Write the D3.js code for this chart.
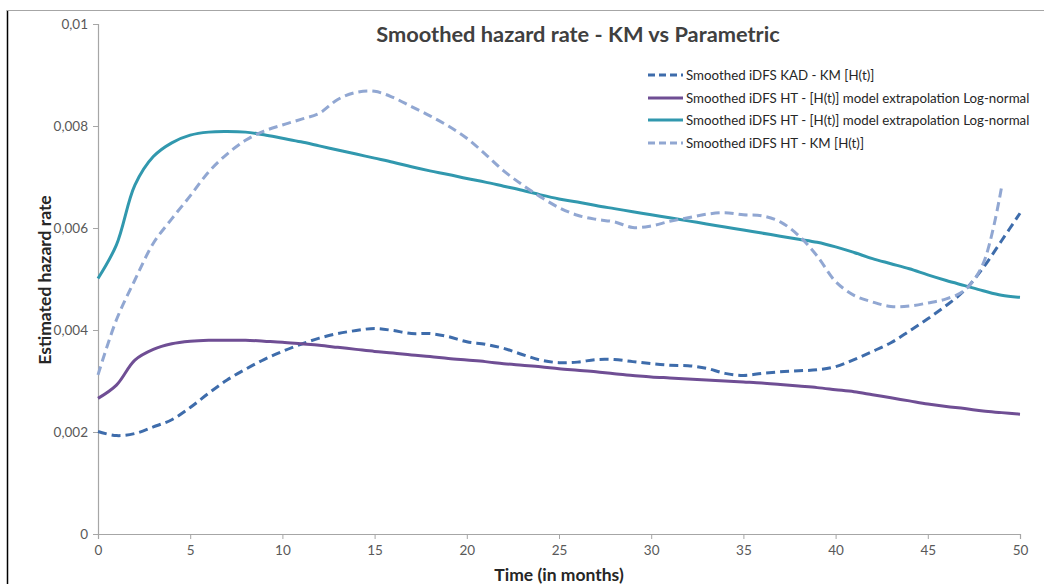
<!DOCTYPE html>
<html>
<head>
<meta charset="utf-8">
<script src="https://cdn.jsdelivr.net/npm/d3@7"></script>
<style>
  html, body { margin: 0; padding: 0; background: #fff; }
  svg { display: block; font-family: Lato, "Open Sans", sans-serif; }
</style>
</head>
<body>
<svg id="chart" width="1044" height="584"></svg>
<script>
// Time axis (months) and tick labels
const months = d3.range(0, 51);
const xTicks = [0, 5, 10, 15, 20, 25, 30, 35, 40, 45, 50];
const yTicks = [0, 0.002, 0.004, 0.006, 0.008, 0.01];
const yTickLabels = ["0", "0,002", "0,004", "0,006", "0,008", "0,01"];

// Smoothed iDFS KAD - KM [H(t)]
const kadKM = [0.00201, 0.00193, 0.00197, 0.00210, 0.00224, 0.00248, 0.00276, 0.00302, 0.00323, 0.00342,
  0.00358, 0.00372, 0.00384, 0.00393, 0.00399, 0.00403, 0.00399, 0.00393, 0.00393, 0.00387,
  0.00377, 0.00372, 0.00364, 0.00352, 0.00341, 0.00336, 0.00337, 0.00342, 0.00342, 0.00338,
  0.00334, 0.00331, 0.00330, 0.00325, 0.00315, 0.00311, 0.00315, 0.00318, 0.00320, 0.00322,
  0.00328, 0.00342, 0.00358, 0.00375, 0.00398, 0.00422, 0.00448, 0.00478, 0.00522, 0.00575, 0.00629];

// Smoothed iDFS HT - [H(t)] model extrapolation Log-normal (lower)
const htLogNormalLow = [0.00266, 0.00292, 0.00341, 0.00362, 0.00373, 0.00378, 0.00380, 0.00380, 0.00380, 0.00378,
  0.00376, 0.00373, 0.00370, 0.00366, 0.00362, 0.00358, 0.00355, 0.00351, 0.00348, 0.00344,
  0.00341, 0.00338, 0.00334, 0.00331, 0.00328, 0.00324, 0.00321, 0.00318, 0.00314, 0.00311,
  0.00308, 0.00306, 0.00304, 0.00302, 0.00300, 0.00298, 0.00296, 0.00293, 0.00290, 0.00287,
  0.00283, 0.00279, 0.00273, 0.00267, 0.00261, 0.00255, 0.00250, 0.00246, 0.00241, 0.00238, 0.00235];

// Smoothed iDFS HT - [H(t)] model extrapolation Log-normal (upper)
const htLogNormalHigh = [0.00501, 0.00567, 0.00684, 0.00740, 0.00767, 0.00782, 0.00788, 0.00789, 0.00788, 0.00783,
  0.00776, 0.00769, 0.00761, 0.00753, 0.00745, 0.00737, 0.00729, 0.00720, 0.00712, 0.00705,
  0.00697, 0.00690, 0.00682, 0.00674, 0.00665, 0.00657, 0.00651, 0.00644, 0.00638, 0.00632,
  0.00626, 0.00620, 0.00614, 0.00608, 0.00602, 0.00596, 0.00590, 0.00584, 0.00578, 0.00572,
  0.00563, 0.00552, 0.00540, 0.00530, 0.00520, 0.00508, 0.00497, 0.00487, 0.00477, 0.00468, 0.00464];

// Smoothed iDFS HT - KM [H(t)] (no value at month 50)
const htKM = [0.00312, 0.00420, 0.00498, 0.00570, 0.00618, 0.00663, 0.00710, 0.00745, 0.00772, 0.00790,
  0.00802, 0.00813, 0.00825, 0.00852, 0.00866, 0.00868, 0.00856, 0.00838, 0.00820, 0.00800,
  0.00776, 0.00745, 0.00712, 0.00685, 0.00661, 0.00640, 0.00625, 0.00617, 0.00612, 0.00601,
  0.00604, 0.00613, 0.00620, 0.00627, 0.00630, 0.00626, 0.00624, 0.00612, 0.00585, 0.00545,
  0.00495, 0.00468, 0.00455, 0.00446, 0.00447, 0.00453, 0.00461, 0.00478, 0.00530, 0.00680];

const seriesNames = [
  "Smoothed iDFS KAD - KM [H(t)]",
  "Smoothed iDFS HT - [H(t)] model extrapolation Log-normal",
  "Smoothed iDFS HT - [H(t)] model extrapolation Log-normal",
  "Smoothed iDFS HT - KM [H(t)]"
];
const seriesValues = [kadKM, htLogNormalLow, htLogNormalHigh, htKM];
const seriesColors = ["#3e6cab", "#6f4e94", "#3198ae", "#91a7d2"];
const seriesDash = ["9,5", null, null, "9,5"];

const svg = d3.select("#chart");

// chart frame
svg.append("line").attr("x1", 7.5).attr("x2", 7.5).attr("y1", 10).attr("y2", 584)
  .attr("stroke", "#000").attr("stroke-width", 1.5);
svg.append("line").attr("x1", 7).attr("x2", 1044).attr("y1", 10.5).attr("y2", 10.5)
  .attr("stroke", "#a6a6a6").attr("stroke-width", 1);

const x = d3.scaleLinear().domain([0, 50]).range([98, 1020]);
const y = d3.scaleLinear().domain([0, 0.01]).range([534, 24]);

// axes
const xAxis = svg.append("g").attr("transform", "translate(0,534)")
  .call(d3.axisBottom(x).tickValues(xTicks).tickSize(5).tickPadding(6).tickFormat(d3.format("d")));
const yAxis = svg.append("g").attr("transform", "translate(98,0)")
  .call(d3.axisLeft(y).tickValues(yTicks).tickSize(5).tickPadding(5)
    .tickFormat((d, i) => yTickLabels[i]));
[xAxis, yAxis].forEach(g => {
  g.select(".domain").attr("stroke", "#a6a6a6").attr("stroke-width", 1.2);
  g.selectAll(".tick line").attr("stroke", "#a6a6a6");
  g.selectAll(".tick text").attr("fill", "#595959").attr("font-size", 13.5)
    .attr("font-family", "Lato, 'Open Sans', sans-serif");
});

// series lines
const line = d3.line()
  .x(d => x(d[0]))
  .y(d => y(d[1]))
  .curve(d3.curveCatmullRom.alpha(0.5));

seriesValues.forEach((vals, i) => {
  svg.append("path")
    .datum(vals.map((v, j) => [months[j], v]))
    .attr("d", line)
    .attr("fill", "none")
    .attr("stroke", seriesColors[i])
    .attr("stroke-width", 3)
    .attr("stroke-dasharray", seriesDash[i])
    .attr("stroke-linejoin", "round");
});

// title
svg.append("text").attr("x", 578).attr("y", 42).attr("text-anchor", "middle")
  .attr("font-size", 21.8).attr("font-weight", "bold").attr("fill", "#404040")
  .text("Smoothed hazard rate - KM vs Parametric");

// axis titles
svg.append("text").attr("x", 559).attr("y", 581).attr("text-anchor", "middle")
  .attr("font-size", 17.5).attr("font-weight", "bold").attr("fill", "#262626")
  .text("Time (in months)");
svg.append("text").attr("transform", "translate(51,280) rotate(-90)").attr("text-anchor", "middle")
  .attr("font-size", 17.5).attr("font-weight", "bold").attr("fill", "#262626")
  .text("Estimated hazard rate");

// legend
const legend = svg.append("g");
const rowY = [75, 98, 120, 143];
seriesNames.forEach((name, i) => {
  legend.append("line").attr("x1", 648).attr("x2", 683).attr("y1", rowY[i]).attr("y2", rowY[i])
    .attr("stroke", seriesColors[i]).attr("stroke-width", 3)
    .attr("stroke-dasharray", seriesDash[i] ? "7,4" : null);
  legend.append("text").attr("x", 686).attr("y", rowY[i] + 4.5)
    .attr("font-size", 13.3).attr("fill", "#262626")
    .text(name);
});
</script>
</body>
</html>
